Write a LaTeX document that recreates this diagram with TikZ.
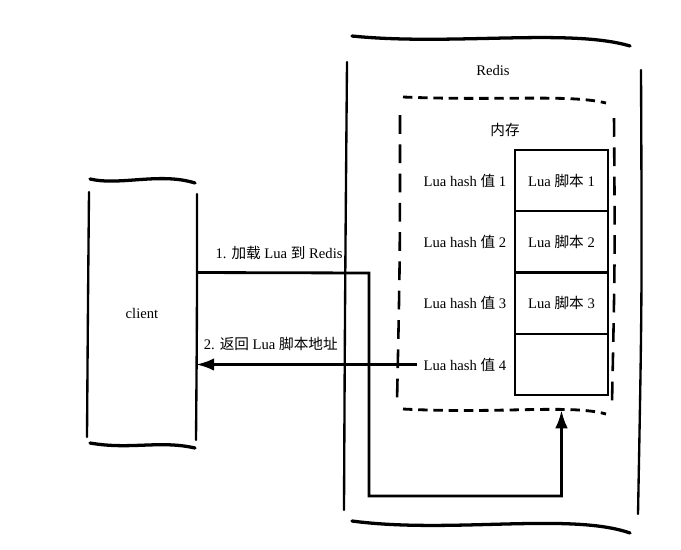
\documentclass[tikz,border=0pt]{standalone}
\usepackage{fontspec}
\setmainfont{Liberation Serif}
\newfontfamily\cjk{Noto Sans CJK SC}
\newcommand\zh[1]{{\cjk #1}}
\usetikzlibrary{arrows.meta, positioning}

\begin{document}
\begin{tikzpicture}[
      x=0.03cm, y=-0.03cm,
      font=\fontsize{12.5}{15}\selectfont,
      sketch/.style={line width=2pt, line cap=round},
      heavy/.style={line width=2.8pt, line cap=round},
      memline/.style={line width=2.4pt, dash pattern=on 8pt off 5pt},
      memside/.style={line width=2.2pt, dash pattern=on 16pt off 9pt},
      scriptbox/.style={draw, line width=2.2pt, minimum width=2.79cm, minimum height=1.84cm, outer sep=0pt, inner sep=2pt},
      arrow/.style={-{Latex[length=5.4mm, width=3.8mm]}, line width=2.4pt}
    ]
    \useasboundingbox (0,0) rectangle (681,549);

    % main nodes
    \node[minimum width=3.24cm, minimum height=7.5cm] (client) at (142,313) {client};
    \node[minimum width=8.82cm, minimum height=14.4cm] (redis) at (494,282) {};
    \node[minimum width=6.36cm, minimum height=9.36cm] (mem) at (507,254) {};
    \node (redislabel) at (493,70) {Redis};
    \node (memlabel) at (505,130) {\zh{内存}};

    % scripts and hash values
    \node[scriptbox] (script1) at (561.5,180.5) {Lua \zh{脚本} 1};
    \node[scriptbox, below=0pt of script1] (script2) {Lua \zh{脚本} 2};
    \node[scriptbox, below=0pt of script2] (script3) {Lua \zh{脚本} 3};
    \node[scriptbox, below=0pt of script3] (script4) {};
    \node[left=4pt of script1] (hash1) {Lua hash \zh{值} 1};
    \node[left=4pt of script2] (hash2) {Lua hash \zh{值} 2};
    \node[left=4pt of script3] (hash3) {Lua hash \zh{值} 3};
    \node[left=4pt of script4] (hash4) {Lua hash \zh{值} 4};

    % client outline
    \draw[heavy] (90,179) .. controls (120,186) and (160,172) .. (195,183);
    \draw[sketch] (89,192) .. controls (88,300) .. (87,437);
    \draw[sketch] (197,194) .. controls (197,320) .. (196,440);
    \draw[heavy] (90,443) .. controls (130,450) and (160,440) .. (195,448);

    % redis outline
    \draw[heavy] (352,36) .. controls (450,46) and (570,28) .. (630,46);
    \draw[sketch] (347,62) .. controls (345,300) .. (344,510);
    \draw[sketch] (641,70) .. controls (642,300) .. (638,514);
    \draw[heavy] (352,521) .. controls (450,534) and (570,512) .. (630,533);

    % memory outline
    \draw[memline] (403,97) .. controls (500,101) and (570,94) .. (606,103);
    \draw[memside] (400,115) .. controls (400,260) .. (397,402);
    \draw[memside] (614,118) .. controls (615,260) .. (612,403);
    \draw[memline] (403,409) .. controls (500,414) and (570,404) .. (606,414);

    % requests
    \coordinate (turn) at (369,496);
    \draw[arrow] (client.east |- script2.south)
      -- node[above=7pt, xshift=-3pt] (loadlabel) {1. \zh{加载} Lua \zh{到} Redis} (369,273)
      -- (turn) -| (script4.south |- mem.south);
    \draw[arrow] ([xshift=-2pt]hash4.west) -- node[above=7pt, pos=0.62, xshift=-8pt] (backlabel) {2. \zh{返回} Lua \zh{脚本地址}} (client.east |- hash4.west);
\end{tikzpicture}
\end{document}
